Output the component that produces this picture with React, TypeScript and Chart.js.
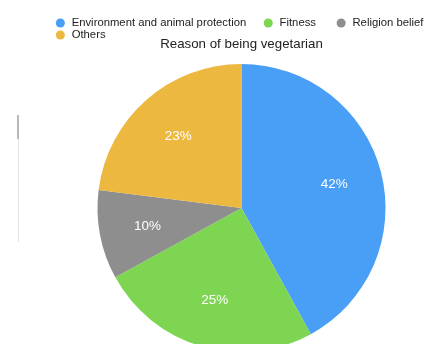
import React, { useEffect, useRef } from "react";
import { Chart, registerables } from "chart.js";

Chart.register(...registerables);

const categories = ["Environment and animal protection", "Fitness", "Religion belief", "Others"];
const shares = [42, 25, 10, 23];
const sliceColors = ["#499EF6", "#7ED552", "#8E8E8E", "#EDB83F"];
const chartTitle = "Reason of being vegetarian";

const FONT = "'Liberation Sans', Arial, Helvetica, sans-serif";
// trailing space counts used only to widen gaps between legend items
const legendGapSpaces = [5, 6, 0, 0];

const pctLabelPlugin = {
  id: "pctLabels",
  afterDatasetsDraw(chart: any) {
    const ctx = chart.ctx;
    const meta = chart.getDatasetMeta(0);
    ctx.save();
    ctx.fillStyle = "#ffffff";
    ctx.font = `13.5px ${FONT}`;
    ctx.textAlign = "center";
    ctx.textBaseline = "middle";
    meta.data.forEach((arc: any, i: number) => {
      const p = arc.getProps(["x", "y", "startAngle", "endAngle", "outerRadius"], true);
      const mid = (p.startAngle + p.endAngle) / 2;
      const r = p.outerRadius * 0.665;
      ctx.fillText(`${shares[i]}%`, p.x + Math.cos(mid) * r, p.y + Math.sin(mid) * r);
    });
    ctx.restore();
  },
};

export default function App() {
  const ref = useRef<HTMLCanvasElement | null>(null);

  useEffect(() => {
    if (!ref.current) return;
    const chart = new Chart(ref.current, {
      type: "pie",
      data: {
        labels: categories,
        datasets: [
          {
            data: shares,
            backgroundColor: sliceColors,
            borderWidth: 0,
            hoverOffset: 0,
          },
        ],
      },
      options: {
        responsive: false,
        animation: false,
        layout: { padding: { left: 54, right: 0, top: 16.6, bottom: 10 } },
        plugins: {
          tooltip: { enabled: false },
          legend: {
            position: "top",
            align: "start",
            labels: {
              usePointStyle: true,
              pointStyle: "circle",
              boxWidth: 11.3,
              boxHeight: 6.4,
              padding: 0.7,
              color: "#222222",
              font: { family: FONT, size: 11.3 },
              generateLabels: () =>
                categories.map((label, i) => ({
                  text: label + " ".repeat(legendGapSpaces[i]),
                  fillStyle: sliceColors[i],
                  strokeStyle: sliceColors[i],
                  lineWidth: 0,
                  pointStyle: "circle",
                  fontColor: "#222222",
                  hidden: false,
                  index: i,
                })),
            },
          },
          title: {
            display: true,
            text: chartTitle,
            weight: 500,
            color: "#222222",
            font: { family: FONT, size: 13.3, weight: "normal" },
            padding: { top: -14.6, bottom: 12 },
          },
        },
      } as any,
      plugins: [pctLabelPlugin],
    });
    return () => chart.destroy();
  }, []);

  return (
    <div
      style={{
        position: "fixed",
        left: 0,
        top: 0,
        width: 427,
        height: 344,
        overflow: "hidden",
        background: "#ffffff",
      }}
    >
      <div style={{ position: "absolute", left: 18, top: 115, width: 1, height: 127, background: "#e4e4e4" }} />
      <div style={{ position: "absolute", left: 17, top: 115, width: 2, height: 24, background: "#b8b8b8" }} />
      <canvas
        ref={ref}
        width={429}
        height={362}
        style={{ position: "absolute", left: 0, top: 0, width: 429, height: 362 }}
      />
    </div>
  );
}
